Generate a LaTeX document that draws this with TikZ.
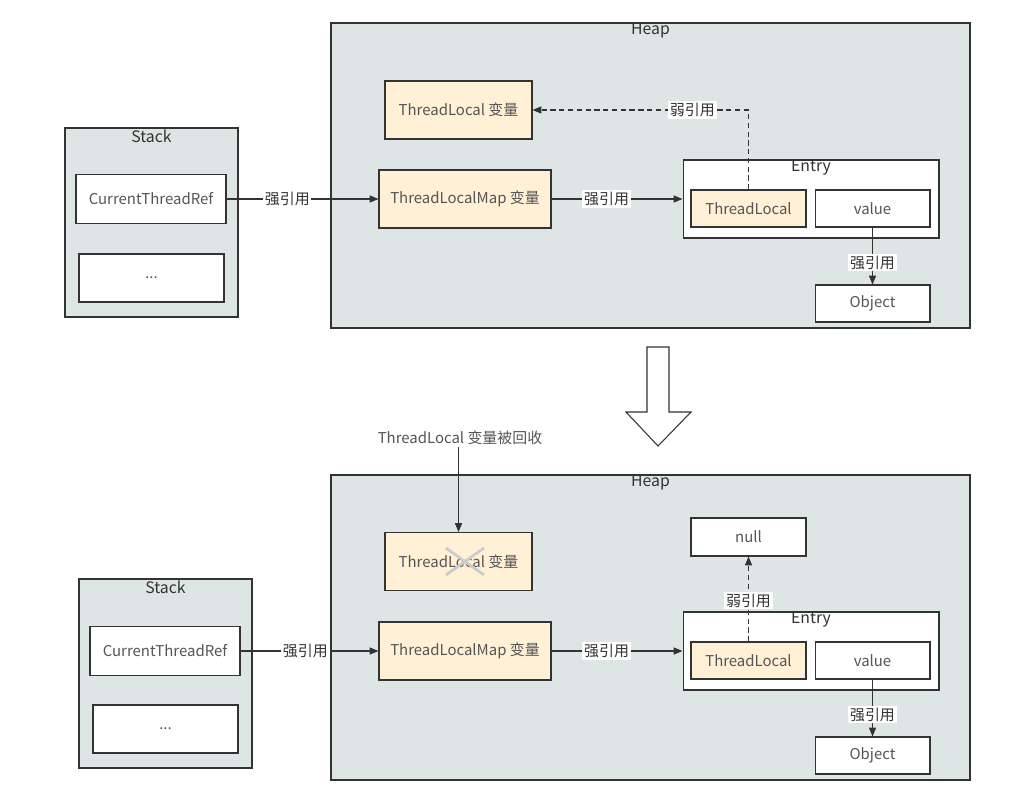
\documentclass[tikz,border=0pt]{standalone}
\usepackage{fontspec}
\setmainfont{Noto Sans CJK SC}
\usetikzlibrary{arrows.meta}

\definecolor{heapfill}{HTML}{DEE6E5}
\definecolor{cream}{HTML}{FFF0D6}
\definecolor{edge}{HTML}{333333}
\definecolor{txt}{HTML}{555555}

\tikzset{
  area/.style={draw=edge, fill=heapfill, line width=0.7pt, inner sep=0pt},
  box/.style={draw=edge, fill=white, line width=0.6pt, text=txt,
    font=\fontsize{8.5}{10}\selectfont, inner sep=0pt},
  var/.style={box, fill=cream},
  title/.style={text=edge, font=\fontsize{9}{10}\selectfont, inner sep=0pt},
  ref/.style={draw=edge, line width=0.6pt, -{Triangle[length=5pt,width=4pt]}},
  weak/.style={ref, dash pattern=on 3pt off 2pt},
  tag/.style={fill=white, text=edge, font=\fontsize{8.5}{10}\selectfont, inner sep=1pt},
}

\begin{document}
\begin{tikzpicture}[x=0.02cm, y=-0.02cm]
    \useasboundingbox (0,0) rectangle (1016,809);

    % ---------- before ----------
    % Heap and Stack
    \node[area, minimum width=12.78cm, minimum height=6.1cm] (heap1) at (650.5,175.5) {};
    \node[title] (heapT1) at (650.5,31) {Heap};
    \node[area, minimum width=3.46cm, minimum height=3.78cm] (stack1) at (151.5,222.5) {};
    \node[title] (stackT1) at (151.5,136) {Stack};

    % Stack frames
    \node[box, minimum width=3cm, minimum height=0.98cm] (ref1) at (151,199) {CurrentThreadRef};
    \node[box, minimum width=2.9cm, minimum height=0.96cm] (dots1) at (151.5,278) {...};

    % Heap objects
    \node[var, minimum width=2.94cm, minimum height=1.16cm] (tlvar1) at (458.5,110) {ThreadLocal 变量};
    \node[var, minimum width=3.44cm, minimum height=1.16cm] (map1) at (465,199) {ThreadLocalMap 变量};
    \node[box, minimum width=5.12cm, minimum height=1.56cm] (entry1) at (811,199) {};
    \node[title] (entryT1) at (811,168) {Entry};
    \node[var, minimum width=2.3cm, minimum height=0.74cm] (tl1) at (748.5,208.5) {ThreadLocal};
    \node[box, minimum width=2.3cm, minimum height=0.74cm] (val1) at (872.5,208.5) {value};
    \node[box, minimum width=2.3cm, minimum height=0.74cm] (obj1) at (872.5,303.5) {Object};

    % References
    \draw[ref] (ref1) -- node[tag, pos=0.4] {强引用} (map1);
    \draw[ref] (map1) -- node[tag, pos=0.42] {强引用} (entry1);
    \draw[weak] (tl1.north) |- node[tag, pos=0.63] {弱引用} (tlvar1.east);
    \draw[ref] (val1) -- node[tag, pos=0.62] {强引用} (obj1);

    % Hollow arrow between the two states
    \draw[draw=edge, fill=white, line width=0.6pt]
        (647,347) -- (669,347) -- (669,412) -- (691,412) -- (658,446)
        -- (626,412) -- (647,412) -- cycle;

    % ---------- after ----------
    % Heap and Stack
    \node[area, minimum width=12.78cm, minimum height=6.1cm] (heap2) at (650.5,627.5) {};
    \node[title] (heapT2) at (650.5,483) {Heap};
    \node[area, minimum width=3.46cm, minimum height=3.78cm] (stack2) at (165.5,673.5) {};
    \node[title] (stackT2) at (165.5,587) {Stack};

    % Stack frames
    \node[box, minimum width=3cm, minimum height=0.98cm] (ref2) at (165,651) {CurrentThreadRef};
    \node[box, minimum width=2.9cm, minimum height=0.96cm] (dots2) at (165.5,729) {...};

    % Heap objects
    \node[var, minimum width=2.94cm, minimum height=1.16cm] (tlvar2) at (458.5,561.5) {ThreadLocal 变量};
    \node[var, minimum width=3.44cm, minimum height=1.16cm] (map2) at (465,651) {ThreadLocalMap 变量};
    \node[box, minimum width=5.12cm, minimum height=1.56cm] (entry2) at (811,651) {};
    \node[title] (entryT2) at (811,620) {Entry};
    \node[var, minimum width=2.3cm, minimum height=0.74cm] (tl2) at (748.5,660.5) {ThreadLocal};
    \node[box, minimum width=2.3cm, minimum height=0.74cm] (val2) at (872.5,660.5) {value};
    \node[box, minimum width=2.3cm, minimum height=0.74cm] (obj2) at (872.5,755.5) {Object};
    \node[box, minimum width=2.3cm, minimum height=0.76cm] (null2) at (748.5,537) {null};

    % Collected ThreadLocal, crossed out
    \draw[gray!40, line width=1.6pt] (446,548) -- (484,575);
    \draw[gray!40, line width=1.6pt] (446,575) -- (484,548);
    \node[text=txt, font=\fontsize{8.5}{10}\selectfont, inner sep=1pt] (note2) at (460,438) {ThreadLocal 变量被回收};
    \draw[ref] (note2.south -| tlvar2.north) -- (tlvar2.north);

    % References
    \draw[ref] (ref2) -- node[tag, pos=0.47] {强引用} (map2);
    \draw[ref] (map2) -- node[tag, pos=0.42] {强引用} (entry2);
    \draw[weak] (tl2) -- node[tag, pos=0.48] {弱引用} (null2);
    \draw[ref] (val2) -- node[tag, pos=0.62] {强引用} (obj2);
\end{tikzpicture}
\end{document}
